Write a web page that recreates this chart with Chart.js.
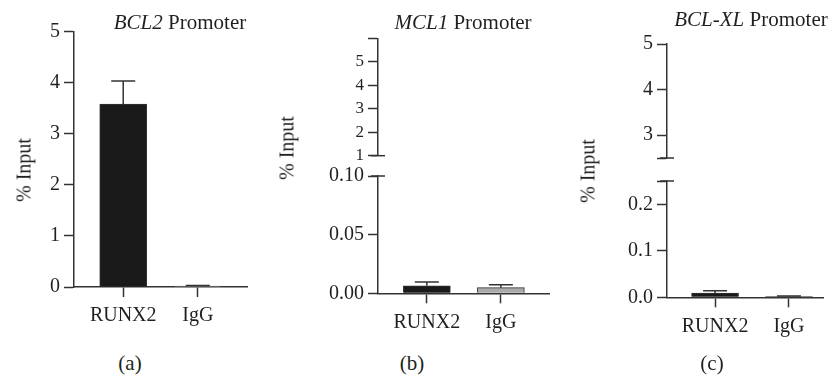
<!DOCTYPE html>
<html>
<head>
<meta charset="utf-8">
<script src="https://cdn.jsdelivr.net/npm/chart.js@4"></script>
<style>
  body { margin: 0; background: #fff; }
  #lienzo { position: relative; width: 829px; height: 376px; overflow: hidden; font-family: "Liberation Serif", serif; color: #231f20; }
  .caja { position: absolute; }
  .texto { position: absolute; font-size: 21px; white-space: nowrap; transform: translate(-50%, -50%); }
  .vertical { font-size: 20px; transform: translate(-50%, -50%) rotate(-90deg); }
</style>
</head>
<body>
<div id="lienzo">
  <div class="caja" style="left:0;top:0;width:260px;height:340px"><canvas id="graficaA"></canvas></div>
  <div class="caja" style="left:260px;top:24px;width:300px;height:146px"><canvas id="graficaBsup"></canvas></div>
  <div class="caja" style="left:260px;top:160px;width:300px;height:180px"><canvas id="graficaBinf"></canvas></div>
  <div class="caja" style="left:560px;top:28px;width:269px;height:146px"><canvas id="graficaCsup"></canvas></div>
  <div class="caja" style="left:560px;top:165px;width:269px;height:180px"><canvas id="graficaCinf"></canvas></div>

  <div class="texto" style="left:180px;top:22px"><i>BCL2</i> Promoter</div>
  <div class="texto" style="left:463px;top:22px"><i>MCL1</i> Promoter</div>
  <div class="texto" style="left:751px;top:19px"><i>BCL-XL</i> Promoter</div>

  <div class="texto vertical" style="left:24px;top:170px">% Input</div>
  <div class="texto vertical" style="left:287px;top:148px">% Input</div>
  <div class="texto vertical" style="left:588px;top:171px">% Input</div>

  <div class="texto" style="left:130px;top:363px">(a)</div>
  <div class="texto" style="left:412px;top:363px">(b)</div>
  <div class="texto" style="left:712px;top:363px">(c)</div>
</div>

<script>
const categorias = ['RUNX2', 'IgG'];
const coloresBarra = ['#1a1a1a', '#aaaaaa'];

// % input y error (solo hacia arriba)
const bcl2Valores = [3.58, 0.02];
const bcl2Errores = [0.45, 0.01];
const mcl1Valores = [0.0064, 0.0048];
const mcl1Errores = [0.0033, 0.0024];
const bclxlValores = [0.009, 0.002];
const bclxlErrores = [0.005, 0.001];

// ticks de cada tramo del eje y
const bcl2Ticks = [0, 1, 2, 3, 4, 5];
const bcl2Etiquetas = ['0', '1', '2', '3', '4', '5'];
const mcl1SupTicks = [1, 2, 3, 4, 5, 6];
const mcl1SupEtiquetas = ['1', '2', '3', '4', '5', ''];
const mcl1InfTicks = [0, 0.05, 0.10];
const mcl1InfEtiquetas = ['0.00', '0.05', '0.10'];
const bclxlSupTicks = [2.5, 3, 4, 5];
const bclxlSupEtiquetas = ['', '3', '4', '5'];
const bclxlInfTicks = [0, 0.1, 0.2, 0.25];
const bclxlInfEtiquetas = ['0.0', '0.1', '0.2', ''];

const FUENTE = "'Liberation Serif', 'DejaVu Serif', serif";
const TINTA = '#231f20';
const LINEA = '#333333';

const barrasError = {
    id: 'barrasError',
    afterDatasetsDraw(chart) {
        const ds = chart.data.datasets[0];
        const meta = chart.getDatasetMeta(0);
        const y = chart.scales.y;
        const area = chart.chartArea;
        const ctx = chart.ctx;
        ctx.save();
        ctx.beginPath();
        ctx.rect(area.left, area.top - 2, area.right - area.left, area.bottom - area.top + 2);
        ctx.clip();
        ctx.strokeStyle = LINEA;
        ctx.lineWidth = 1.5;
        meta.data.forEach((barra, i) => {
            const v = ds.data[i].y;
            const base = y.getPixelForValue(v);
            const tope = y.getPixelForValue(v + ds.errores[i]);
            ctx.beginPath();
            ctx.moveTo(barra.x, base);
            ctx.lineTo(barra.x, tope);
            ctx.moveTo(barra.x - 12, tope);
            ctx.lineTo(barra.x + 12, tope);
            ctx.stroke();
        });
        ctx.restore();
    }
};

// marca de corte del eje (linea corta que cruza el eje)
function marcaCorte(lado) {
    return {
        id: 'marcaCorte',
        afterDraw(chart) {
            const area = chart.chartArea;
            const ctx = chart.ctx;
            const yy = lado === 'abajo' ? area.bottom : area.top;
            ctx.save();
            ctx.strokeStyle = LINEA;
            ctx.lineWidth = 1.5;
            ctx.beginPath();
            ctx.moveTo(area.left - 7, yy);
            ctx.lineTo(area.left + 7, yy);
            ctx.stroke();
            ctx.restore();
        }
    };
}

function ejeY(min, max, ticks, etiquetas, tam, ancho) {
    return {
        min: min,
        max: max,
        afterBuildTicks: s => { s.ticks = ticks.map(v => ({ value: v })); },
        afterFit: s => { s.width = ancho; },
        ticks: {
            autoSkip: false,
            callback: (v, i) => etiquetas[i],
            font: { family: FUENTE, size: tam },
            color: TINTA,
            padding: 4
        },
        grid: { drawOnChartArea: false, tickLength: 10, tickColor: LINEA, tickWidth: 1.5 },
        border: { color: LINEA, width: 1.5 }
    };
}

function ejeX(min, max, alto, visible) {
    return {
        type: 'linear',
        display: visible,
        offset: false,
        min: min,
        max: max,
        afterBuildTicks: s => { s.ticks = categorias.map((c, i) => ({ value: i })); },
        afterFit: s => { s.height = alto; },
        ticks: {
            autoSkip: false,
            maxRotation: 0,
            callback: (v, i) => categorias[i],
            font: { family: FUENTE, size: 20 },
            color: TINTA,
            padding: 7
        },
        grid: { offset: false, drawOnChartArea: false, tickLength: 10, tickColor: LINEA, tickWidth: 1.5 },
        border: { color: LINEA, width: 1.5 }
    };
}

function crearGrafica(id, valores, errores, ejeXcfg, ejeYcfg, relleno, extras) {
    const ctx = document.getElementById(id).getContext('2d');
    return new Chart(ctx, {
        type: 'bar',
        data: {
            datasets: [{
                data: valores.map((v, i) => ({ x: i, y: v })),
                errores: errores,
                backgroundColor: coloresBarra,
                borderColor: LINEA,
                borderWidth: 1,
                barThickness: 47
            }]
        },
        options: {
            responsive: true,
            maintainAspectRatio: false,
            animation: false,
            layout: { padding: relleno },
            plugins: { legend: { display: false }, tooltip: { enabled: false } },
            scales: { x: ejeXcfg, y: ejeYcfg }
        },
        plugins: [barrasError].concat(extras)
    });
}

crearGrafica('graficaA', bcl2Valores, bcl2Errores,
    ejeX(-0.66, 1.66, 53, true),
    ejeY(0, 5, bcl2Ticks, bcl2Etiquetas, 20, 74),
    { top: 31.5, right: 13, left: 0, bottom: 0 }, []);

crearGrafica('graficaBsup', mcl1Valores, mcl1Errores,
    ejeX(-0.66, 1.65, 0, false),
    ejeY(1, 6, mcl1SupTicks, mcl1SupEtiquetas, 17, 118),
    { top: 14.3, right: 11, left: 0, bottom: 14.3 }, [marcaCorte('abajo')]);

crearGrafica('graficaBinf', mcl1Valores, mcl1Errores,
    ejeX(-0.66, 1.65, 46.7, true),
    ejeY(0, 0.10, mcl1InfTicks, mcl1InfEtiquetas, 20, 118),
    { top: 14, right: 11, left: 0, bottom: 0 }, [marcaCorte('arriba')]);

crearGrafica('graficaCsup', bclxlValores, bclxlErrores,
    ejeX(-0.65, 1.46, 0, false),
    ejeY(2.5, 5, bclxlSupTicks, bclxlSupEtiquetas, 20, 107),
    { top: 14.3, right: 6, left: 0, bottom: 14 }, [marcaCorte('abajo')]);

crearGrafica('graficaCinf', bclxlValores, bclxlErrores,
    ejeX(-0.65, 1.46, 47.7, true),
    ejeY(0, 0.25, bclxlInfTicks, bclxlInfEtiquetas, 20, 107),
    { top: 14, right: 6, left: 0, bottom: 0 }, [marcaCorte('arriba')]);
</script>
</body>
</html>
